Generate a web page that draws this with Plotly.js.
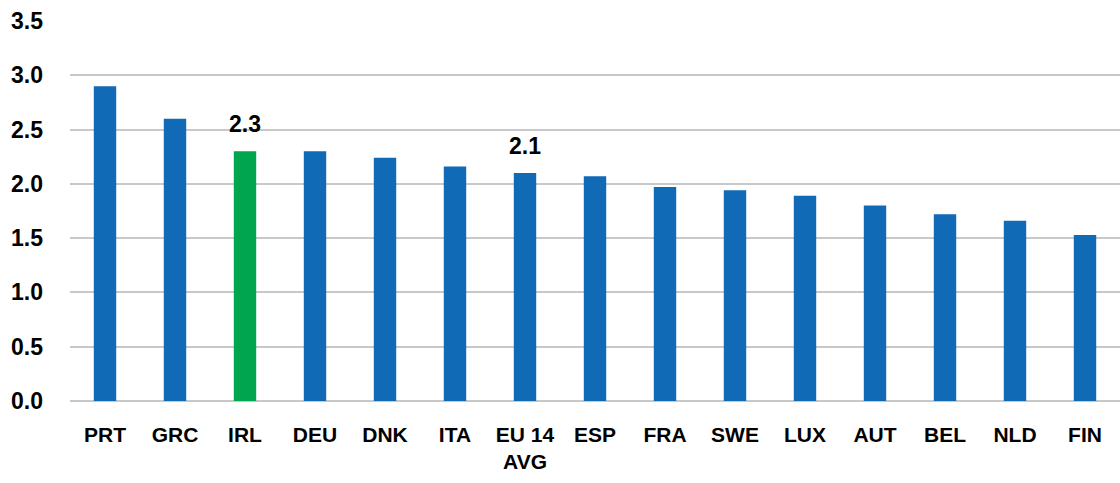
<!DOCTYPE html>
<html>
<head>
<meta charset="utf-8">
<script src="https://cdn.plot.ly/plotly-3.0.1.min.js"></script>
<style>html,body{margin:0;padding:0;background:#fff;}#chart{width:1120px;height:483px;}</style>
</head>
<body>
<div id="chart"></div>
<script>
const categories = ["PRT","GRC","IRL","DEU","DNK","ITA","EU 14<br>AVG","ESP","FRA","SWE","LUX","AUT","BEL","NLD","FIN"];
const values = [2.9, 2.6, 2.3, 2.3, 2.24, 2.16, 2.1, 2.07, 1.97, 1.94, 1.89, 1.8, 1.72, 1.66, 1.53];
const highlight = "IRL";
const labelled = ["IRL", "EU 14<br>AVG"];
const yTicks = [0, 0.5, 1, 1.5, 2, 2.5, 3, 3.5];

const blue = "#106ab5", green = "#00a54f";
const colors = categories.map(c => c === highlight ? green : blue);
const FONT = "'Liberation Sans', Arial, sans-serif";

const annotations = labelled.map(c => {
  const v = values[categories.indexOf(c)];
  return {x: c, y: v, text: "<b>" + v.toFixed(1) + "</b>", showarrow: false,
    yanchor: "bottom", yshift: 12, font: {family: FONT, size: 23, color: "#000"}};
});

Plotly.newPlot("chart", [{
  type: "bar", x: categories, y: values,
  marker: {color: colors, line: {width: 0}},
  width: 0.32, hoverinfo: "x+y"
}], {
  width: 1120, height: 483,
  margin: {l: 70, r: 0, t: 21, b: 82, pad: 0},
  paper_bgcolor: "#fff", plot_bgcolor: "#fff",
  showlegend: false,
  bargap: 0.68,
  font: {family: FONT, color: "#000"},
  xaxis: {type: "category", tickfont: {family: FONT, size: 21, color: "#000", weight: "bold"},
    showgrid: false, showline: false, ticks: "", ticklabelstandoff: 19, zeroline: false},
  yaxis: {range: [0, 3.5], tickvals: yTicks, ticktext: yTicks.map(v => v.toFixed(1)),
    tickfont: {family: FONT, size: 23, color: "#000", weight: "bold"},
    showgrid: true, gridcolor: "#c8c8c8", gridwidth: 2,
    zeroline: true, zerolinecolor: "#c8c8c8", zerolinewidth: 2,
    showline: false, ticks: "", ticklabelstandoff: 26},
  annotations: annotations
}, {displayModeBar: false, staticPlot: true});
</script>
</body>
</html>
